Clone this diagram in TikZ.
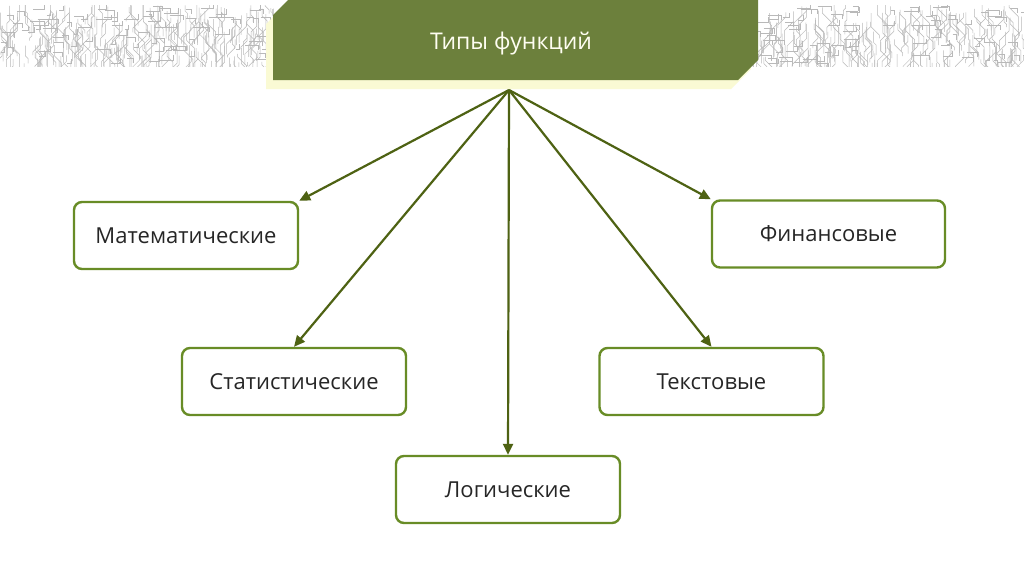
\documentclass[tikz,border=0pt]{standalone}
\usepackage{fontspec}
\setmainfont{Open Sans}
\usetikzlibrary{arrows.meta}
\definecolor{titlegreen}{RGB}{108,128,60}
\definecolor{boxgreen}{RGB}{104,140,38}
\definecolor{arrowgreen}{RGB}{78,98,19}
\definecolor{shadowyellow}{RGB}{250,250,212}
\definecolor{circgray}{RGB}{185,185,185}
\tikzset{
  fbox/.style={draw=boxgreen, line width=2.4pt, rounded corners=8pt, fill=white,
    minimum width=224pt, minimum height=67pt, inner sep=0pt, font=\fontsize{22}{26}\selectfont, text=black!85},
  conn/.style={draw=arrowgreen, line width=2.2pt, -{Triangle[length=11pt,width=10pt]}},
  circ/.style={draw=circgray, line width=0.5pt},
}
\begin{document}
\begin{tikzpicture}[x=1pt,y=-1pt]
\useasboundingbox (0,0) rectangle (1024,574);
\fill[white] (0,0) rectangle (1024,574);
% circuit texture strip
\begin{scope}
\clip (0,5) rectangle (1024,66);
\pgfmathsetseed{42}
\foreach \i in {1,...,900}{
  \pgfmathsetmacro\xa{rnd*1024}
  \pgfmathsetmacro\ya{2+rnd*62}
  \pgfmathsetmacro\la{3+rnd*14}
  \pgfmathsetmacro\lb{2+rnd*8}
  \pgfmathsetmacro\lc{2+rnd*12}
  \pgfmathsetmacro\sg{rnd<0.5 ? -1 : 1}
  \draw[circ] (\xa,\ya) -- ++(0,\la) -- ++(\sg*\lb,\lb) -- ++(0,\lc);
}
\foreach \i in {1,...,350}{
  \pgfmathsetmacro\xa{rnd*1024}
  \pgfmathsetmacro\ya{6+rnd*58}
  \pgfmathsetmacro\la{3+rnd*12}
  \pgfmathsetmacro\sg{rnd<0.5 ? -1 : 1}
  \draw[circ] (\xa,\ya) -- ++(\la,0) -- ++(0,\sg*5);
}
\end{scope}
% title shape with shadow
\fill[shadowyellow] (266,24) -- (281,9) -- (751,9) -- (751,69) -- (731,89) -- (266,89) -- cycle;
\fill[titlegreen] (273,15) -- (288,0) -- (758,0) -- (758,60) -- (738,80) -- (273,80) -- cycle;
\node[text=white!95!yellow, font=\fontsize{23}{27}\selectfont] (title) at (511,44) {Типы функций};
\coordinate (hub) at (509,90);
% boxes
\node[fbox] (mat) at (186,235.5) {Математические};
\node[fbox, minimum width=233pt] (fin) at (828.5,234) {Финансовые};
\node[fbox] (stat) at (294,381.5) {Статистические};
\node[fbox] (txt) at (711.5,381.5) {Текстовые};
\node[fbox] (log) at (508,489.5) {Логические};
% connectors
\draw[conn] (hub) -- (mat.north east);
\draw[conn] (hub) -- (fin.north west);
\draw[conn] (hub) -- (stat.north);
\draw[conn] (hub) -- (txt.north);
\draw[conn] (hub) -- (log.north);
\end{tikzpicture}
\end{document}
